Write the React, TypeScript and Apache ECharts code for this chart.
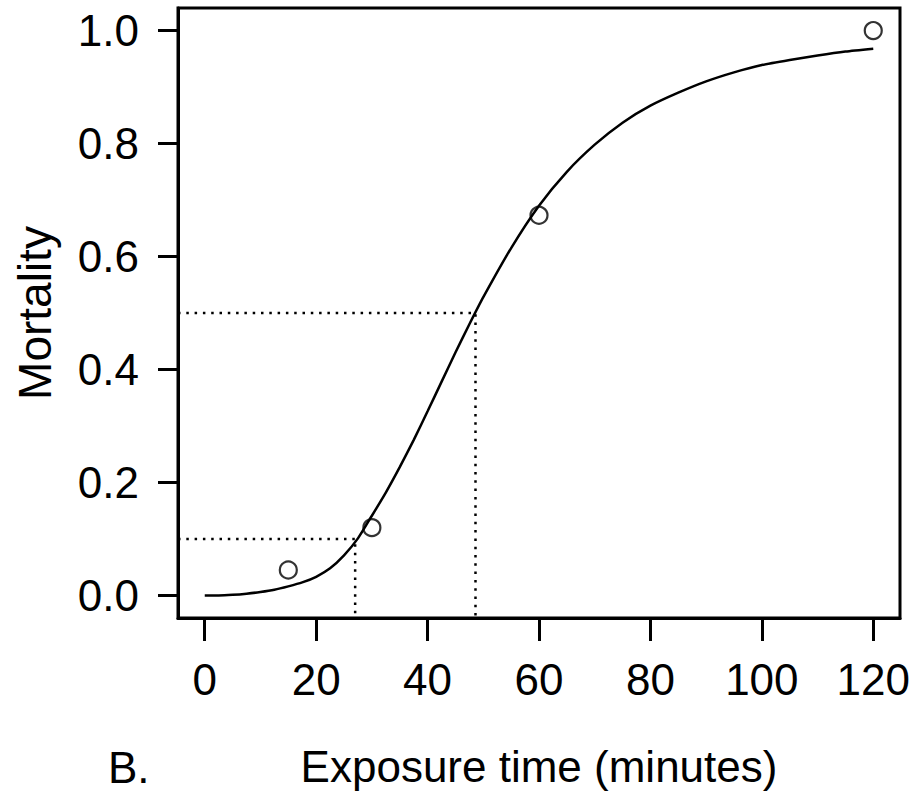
import React, { useEffect, useRef } from "react";
import * as echarts from "echarts";

// Observed data points (exposure time in minutes, mortality)
const obsTime = [15, 30, 60, 120];
const obsMortality = [0.045, 0.12, 0.673, 1.0];

// Fitted curve
const curveTime = [
  0, 2.5, 5, 7.5, 10, 12.5, 15, 17.5, 20, 22.5, 25, 27.5, 30, 32.5, 35, 37.5, 40, 42.5, 45, 47.5, 50,
  55, 60, 65, 70, 75, 80, 85, 90, 95, 100, 105, 110, 115, 120,
];
const curveMortality = [
  0.0, 0.0, 0.001, 0.003, 0.006, 0.01, 0.016, 0.023, 0.033, 0.048, 0.071, 0.101, 0.141, 0.182, 0.227,
  0.275, 0.326, 0.378, 0.43, 0.48, 0.528, 0.615, 0.69, 0.75, 0.798, 0.837, 0.867, 0.89, 0.91, 0.926,
  0.939, 0.948, 0.956, 0.963, 0.968,
];

// Reference levels (LT10 and LT50)
const refLevels = [0.1, 0.5];
const refTimes = [27.0, 48.6];

// Axis ticks
const xTicks = [0, 20, 40, 60, 80, 100, 120];
const yTicks = [0, 0.2, 0.4, 0.6, 0.8, 1.0];
const xMin = -4.8;
const xMax = 124.8;
const yMin = -0.04;
const yMax = 1.04;

const FONT = "'Liberation Sans', Arial, Helvetica, sans-serif";

export default function App() {
  const ref = useRef<HTMLDivElement>(null);

  useEffect(() => {
    if (!ref.current) return;
    const chart = echarts.init(ref.current, undefined, { renderer: "svg" });

    const refSeries = refLevels.map((lv, i) => ({
      type: "line",
      data: [
        [xMin, lv],
        [refTimes[i], lv],
        [refTimes[i], yMin],
      ],
      symbol: "none",
      silent: true,
      lineStyle: { color: "#000", width: 2.5, type: [2.5, 5.8] },
      z: 2,
    }));

    chart.setOption({
      animation: false,
      backgroundColor: "#fff",
      grid: {
        left: 178,
        top: 8,
        right: 15,
        bottom: 179,
        show: true,
        borderColor: "#000",
        borderWidth: 3,
        backgroundColor: "transparent",
      },
      xAxis: {
        type: "value",
        min: xMin,
        max: xMax,
        name: "Exposure time (minutes)",
        nameLocation: "middle",
        nameGap: 126,
        nameTextStyle: { fontSize: 44, color: "#000", fontFamily: FONT },
        axisLine: { show: true, onZero: false, lineStyle: { color: "#000", width: 3 } },
        axisTick: {
          show: true,
          inside: false,
          length: 23,
          customValues: xTicks,
          lineStyle: { color: "#000", width: 3 },
        },
        axisLabel: {
          customValues: xTicks,
          fontSize: 44,
          color: "#000",
          fontFamily: FONT,
          margin: 39,
          formatter: (v: number) => String(v),
        },
        splitLine: { show: false },
      },
      yAxis: {
        type: "value",
        min: yMin,
        max: yMax,
        name: "Mortality",
        nameLocation: "middle",
        nameRotate: 90,
        nameGap: 120,
        nameTextStyle: { fontSize: 46, color: "#000", fontFamily: FONT },
        axisLine: { show: true, onZero: false, lineStyle: { color: "#000", width: 3 } },
        axisTick: {
          show: true,
          inside: false,
          length: 20,
          customValues: yTicks,
          lineStyle: { color: "#000", width: 3 },
        },
        axisLabel: {
          customValues: yTicks,
          fontSize: 44,
          color: "#000",
          fontFamily: FONT,
          margin: 39,
          formatter: (v: number) => v.toFixed(1),
        },
        splitLine: { show: false },
      },
      graphic: [
        {
          type: "text",
          left: 108,
          top: 745,
          style: {
            text: "B.",
            fontSize: 44,
            fill: "#000",
            fontFamily: FONT,
          },
        },
      ],
      series: [
        ...refSeries,
        {
          type: "line",
          data: curveTime.map((t, i) => [t, curveMortality[i]]),
          symbol: "none",
          smooth: 0.2,
          lineStyle: { color: "#000", width: 2.5 },
          z: 3,
        },
        {
          type: "scatter",
          data: obsTime.map((t, i) => [t, obsMortality[i]]),
          symbol: "circle",
          symbolSize: 17,
          itemStyle: { color: "transparent", borderColor: "#000", borderWidth: 2.2 },
          z: 4,
        },
      ],
    });

    return () => chart.dispose();
  }, []);

  return (
    <div
      ref={ref}
      style={{ position: "fixed", left: 0, top: 0, width: 915, height: 797, background: "#fff" }}
    />
  );
}
